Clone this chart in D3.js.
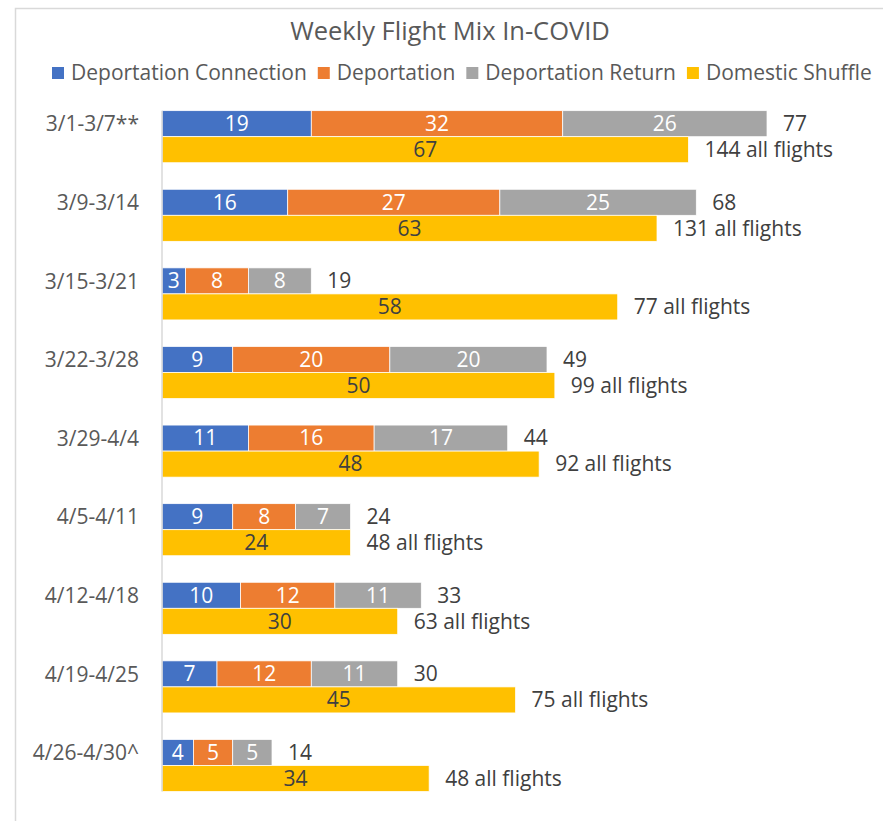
<!DOCTYPE html>
<html>
<head>
<meta charset="utf-8">
<script src="https://cdn.jsdelivr.net/npm/d3@7"></script>
<style>
  body { margin: 0; background: #fff; }
  svg { display: block; font-family: "Open Sans", sans-serif; }
</style>
</head>
<body>
<div id="chart"></div>
<script>
var categories = ['3/1-3/7**', '3/9-3/14', '3/15-3/21', '3/22-3/28', '3/29-4/4', '4/5-4/11', '4/12-4/18', '4/19-4/25', '4/26-4/30^'];
var depConnection = [19, 16, 3, 9, 11, 9, 10, 7, 4];
var deportation = [32, 27, 8, 20, 16, 8, 12, 12, 5];
var depReturn = [26, 25, 8, 20, 17, 7, 11, 11, 5];
var domShuffle = [67, 63, 58, 50, 48, 24, 30, 45, 34];
var allFlights = [144, 131, 77, 99, 92, 48, 63, 75, 48];
var seriesNames = ['Deportation Connection', 'Deportation', 'Deportation Return', 'Domestic Shuffle'];
var colors = ['#4472C4', '#ED7D31', '#A5A5A5', '#FFC000'];

var width = 883, height = 821;
var fontSize = 21;
var svg = d3.select('#chart').append('svg').attr('width', width).attr('height', height);

svg.append('rect').attr('width', width).attr('height', height).attr('fill', '#fff');
// chart frame (only left and top edges are visible)
svg.append('path')
    .attr('d', 'M15.5,' + height + 'V8.5H' + width)
    .attr('fill', 'none')
    .attr('stroke', '#d9d9d9')
    .attr('stroke-width', 1.5);

svg.append('text')
    .attr('x', 450).attr('y', 31)
    .attr('dy', '0.35em')
    .attr('text-anchor', 'middle')
    .attr('fill', '#595959')
    .attr('font-size', 25.5)
    .text('Weekly Flight Mix In-COVID');

// legend, laid out left to right
var legend = svg.append('g').attr('transform', 'translate(52,73)');
var lx = 0;
seriesNames.forEach(function (name, i) {
    var item = legend.append('g').attr('transform', 'translate(' + lx + ',0)');
    item.append('rect')
        .attr('x', 0).attr('y', -6)
        .attr('width', 12).attr('height', 12)
        .attr('fill', colors[i]);
    var t = item.append('text')
        .attr('x', 19)
        .attr('dy', '0.35em')
        .attr('fill', '#595959')
        .attr('font-size', fontSize)
        .text(name);
    lx += 19 + t.node().getComputedTextLength() + 11;
});

var x = d3.scaleLinear().domain([0, 77]).range([162, 767]);
var y = d3.scaleBand().domain(categories).range([97.4, 804.8]).paddingInner(0).paddingOuter(0);
var sub = d3.scaleBand().domain(['dep', 'dom']).range([0, y.bandwidth()]).paddingInner(0).paddingOuter(0.51);

var rows = categories.map(function (c, i) {
    return { cat: c, a: depConnection[i], b: deportation[i], c: depReturn[i], d: domShuffle[i], all: allFlights[i] };
});
var stacked = d3.stack().keys(['a', 'b', 'c'])(rows);

var plot = svg.append('g');

stacked.forEach(function (layer, k) {
    var g = plot.append('g');
    g.selectAll('rect')
        .data(layer)
        .enter().append('rect')
        .attr('x', function (d) { return x(d[0]); })
        .attr('y', function (d) { return y(d.data.cat) + sub('dep'); })
        .attr('width', function (d) { return x(d[1]) - x(d[0]); })
        .attr('height', sub.bandwidth())
        .attr('fill', colors[k])
        .attr('stroke', '#fff')
        .attr('stroke-width', 0.75);
    g.selectAll('text')
        .data(layer)
        .enter().append('text')
        .attr('x', function (d) { return (x(d[0]) + x(d[1])) / 2; })
        .attr('y', function (d) { return y(d.data.cat) + sub('dep') + sub.bandwidth() / 2; })
        .attr('dy', '0.35em')
        .attr('text-anchor', 'middle')
        .attr('fill', '#fff')
        .attr('font-size', fontSize)
        .text(function (d) { return d[1] - d[0]; });
});

plot.append('g').selectAll('rect')
    .data(rows)
    .enter().append('rect')
    .attr('x', x(0))
    .attr('y', function (d) { return y(d.cat) + sub('dom'); })
    .attr('width', function (d) { return x(d.d) - x(0); })
    .attr('height', sub.bandwidth())
    .attr('fill', colors[3])
    .attr('stroke', '#fff')
    .attr('stroke-width', 0.75);

plot.append('g').selectAll('text')
    .data(rows)
    .enter().append('text')
    .attr('x', function (d) { return (x(0) + x(d.d)) / 2; })
    .attr('y', function (d) { return y(d.cat) + sub('dom') + sub.bandwidth() / 2; })
    .attr('dy', '0.35em')
    .attr('text-anchor', 'middle')
    .attr('fill', '#404040')
    .attr('font-size', fontSize)
    .text(function (d) { return d.d; });

// totals to the right of each bar
plot.append('g').selectAll('text')
    .data(rows)
    .enter().append('text')
    .attr('x', function (d) { return x(d.a + d.b + d.c) + 16; })
    .attr('y', function (d) { return y(d.cat) + sub('dep') + sub.bandwidth() / 2; })
    .attr('dy', '0.35em')
    .attr('fill', '#404040')
    .attr('font-size', fontSize)
    .text(function (d) { return d.a + d.b + d.c; });

plot.append('g').selectAll('text')
    .data(rows)
    .enter().append('text')
    .attr('x', function (d) { return x(d.d) + 16; })
    .attr('y', function (d) { return y(d.cat) + sub('dom') + sub.bandwidth() / 2; })
    .attr('dy', '0.35em')
    .attr('fill', '#404040')
    .attr('font-size', fontSize)
    .text(function (d) { return d.all + ' all flights'; });

// category axis; its line runs only along the bars
var axis = svg.append('g')
    .attr('transform', 'translate(' + x(0) + ',0)')
    .call(d3.axisLeft(y).tickSize(0).tickPadding(23));
var y0 = y(categories[0]) + sub('dep');
var y1 = y(categories[categories.length - 1]) + sub('dom') + sub.bandwidth();
axis.select('.domain')
    .attr('d', 'M0,' + y0 + 'V' + y1)
    .attr('stroke', '#d9d9d9')
    .attr('stroke-width', 1.5);
axis.selectAll('text')
    .attr('font-family', '"Open Sans", sans-serif')
    .attr('font-size', fontSize)
    .attr('fill', '#595959')
    .attr('dy', '-0.25em');
</script>
</body>
</html>
